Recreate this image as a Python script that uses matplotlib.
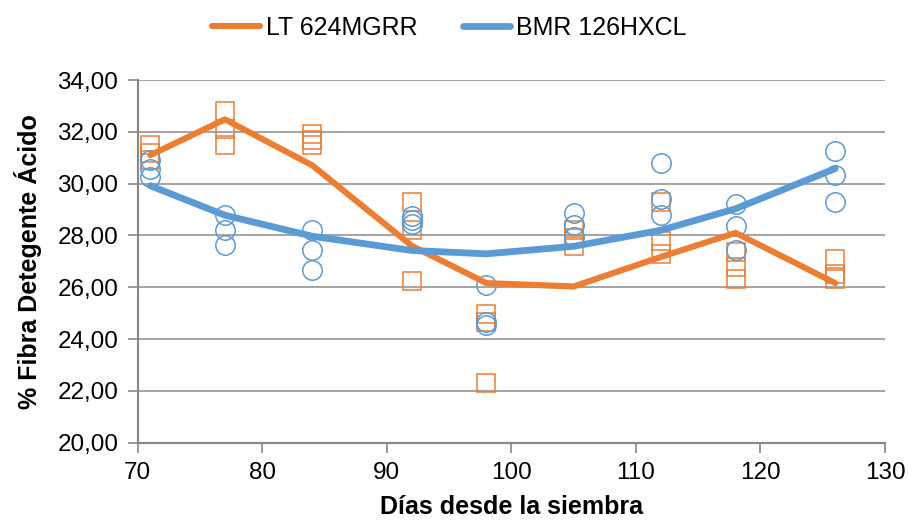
import matplotlib
matplotlib.use("Agg")
import matplotlib.pyplot as plt
import numpy as np

plt.rcParams['font.family'] = ['Liberation Sans', 'DejaVu Sans']

# Data
days = [71, 77, 84, 92, 98, 105, 112, 118, 126]
lt_line = [31.1, 32.48, 30.71, 27.6, 26.16, 26.03, 27.17, 28.1, 26.16]
bmr_line = [29.92, 28.78, 27.97, 27.42, 27.29, 27.58, 28.2, 29.03, 30.58]

lt_reps = [
    [31.5, 31.2, 30.9],
    [32.8, 32.1, 31.5],
    [31.9, 31.7, 31.5],
    [29.3, 28.2, 26.25],
    [24.95, 24.65, 22.3],
    [28.2, 27.9, 27.6],
    [29.3, 27.8, 27.3],
    [27.35, 26.8, 26.3],
    [27.1, 26.5, 26.3],
]
bmr_reps = [
    [30.9, 30.55, 30.25],
    [28.8, 28.2, 27.65],
    [28.2, 27.45, 26.65],
    [28.75, 28.6, 28.45],
    [26.1, 24.65, 24.55],
    [28.85, 28.4, 27.95],
    [30.8, 29.4, 28.8],
    [29.2, 28.35, 27.45],
    [31.25, 30.35, 29.3],
]

series_names = ["LT 624MGRR", "BMR 126HXCL"]
x_ticks = [70, 80, 90, 100, 110, 120, 130]
y_ticks = [20, 22, 24, 26, 28, 30, 32, 34]
y_tick_labels = ["20,00", "22,00", "24,00", "26,00", "28,00", "30,00", "32,00", "34,00"]
x_label = "Días desde la siembra"
y_label = "% Fibra Detegente Ácido"

orange = "#ED7D31"
blue = "#5B9BD5"
axis_gray = "#868686"
grid_gray = "#A6A6A6"

fig = plt.figure(figsize=(9.08, 5.25), dpi=100)
ax = fig.add_axes([0.1517, 0.1568, 0.8230, 0.6908])

for d, reps in zip(days, lt_reps):
    ax.plot([d] * len(reps), reps, linestyle='none', marker='s', markersize=13.5,
            markerfacecolor='none', markeredgecolor=orange, markeredgewidth=1.1, zorder=3)
for d, reps in zip(days, bmr_reps):
    ax.plot([d] * len(reps), reps, linestyle='none', marker='o', markersize=14,
            markerfacecolor='none', markeredgecolor=blue, markeredgewidth=1.1, zorder=3)

l1, = ax.plot(days, lt_line, color=orange, linewidth=4.4, solid_capstyle='round',
              solid_joinstyle='round', zorder=4, label=series_names[0])
l2, = ax.plot(days, bmr_line, color=blue, linewidth=4.9, solid_capstyle='round',
              solid_joinstyle='round', zorder=4, label=series_names[1])

ax.set_xlim(70, 130)
ax.set_ylim(20, 34)
ax.set_xticks(x_ticks)
ax.set_xticklabels([str(t) for t in x_ticks])
ax.set_yticks(y_ticks)
ax.set_yticklabels(y_tick_labels)

ax.grid(axis='y', color=grid_gray, linewidth=1.5, zorder=0)
ax.set_axisbelow(True)
for s in ['top', 'right']:
    ax.spines[s].set_visible(False)
for s in ['left', 'bottom']:
    ax.spines[s].set_color(axis_gray)
    ax.spines[s].set_linewidth(1.5)
ax.tick_params(axis='both', direction='out', length=7, width=1.2, color=axis_gray,
               labelsize=17.5, labelcolor='black', pad=7)

ax.set_xlabel(x_label, fontsize=18, fontweight='bold', labelpad=8)
ax.set_ylabel(y_label, fontsize=18, fontweight='bold', labelpad=11)

leg = fig.legend(handles=[l1, l2], loc='center', bbox_to_anchor=(0.495, 0.947), ncol=2,
                 frameon=False, fontsize=18, handlelength=1.9, handletextpad=0.25,
                 columnspacing=1.8)

fig.savefig("out.png", dpi=100)
